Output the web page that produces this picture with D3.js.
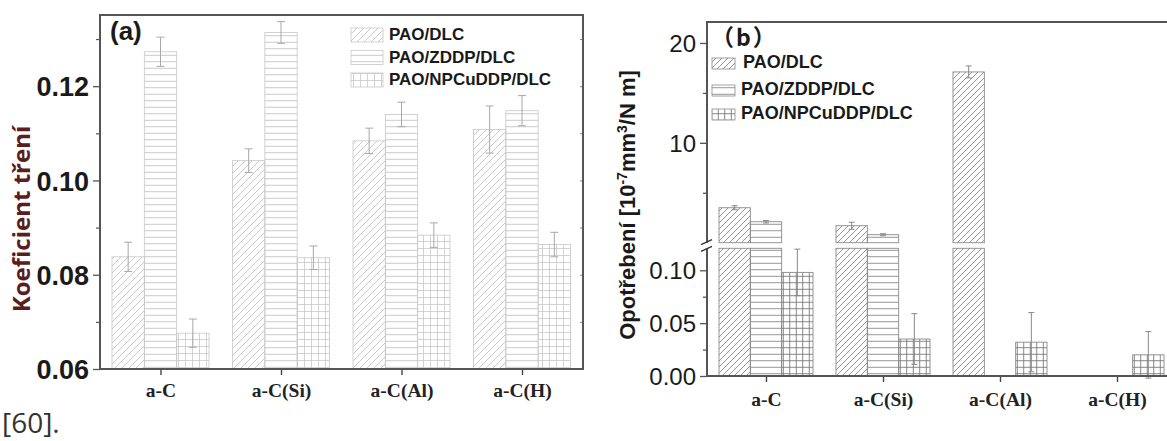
<!DOCTYPE html>
<html>
<head>
<meta charset="utf-8">
<script src="https://cdn.jsdelivr.net/npm/d3@7"></script>
<style>
  body { margin: 0; background: #fff; }
  svg { display: block; }
</style>
</head>
<body>
<svg width="1167" height="441"></svg>
<script>
// data
const categories = ['a-C', 'a-C(Si)', 'a-C(Al)', 'a-C(H)'];
const seriesNames = ['PAO/DLC', 'PAO/ZDDP/DLC', 'PAO/NPCuDDP/DLC'];

// (a) friction coefficient
const fricPAO = [0.0838, 0.1042, 0.1084, 0.1108];
const fricZDDP = [0.1273, 0.1314, 0.1140, 0.1148];
const fricNPCu = [0.0676, 0.0836, 0.0884, 0.0864];
const fricErrPAO = [0.0031, 0.0025, 0.0027, 0.0050];
const fricErrZDDP = [0.0031, 0.0023, 0.0026, 0.0032];
const fricErrNPCu = [0.0030, 0.0025, 0.0026, 0.0026];

// (b) wear rate, null = no bar
const wearPAO = [3.5, 1.7, 17.1, null];
const wearZDDP = [2.1, 0.8, null, null];
const wearNPCu = [0.098, 0.035, 0.032, 0.020];
const wearErrPAO = [0.2, 0.35, 0.6, null];
const wearErrZDDP = [0.12, 0.1, null, null];
const wearErrNPCu = [0.022, 0.024, 0.028, 0.022];

const fricTicks = [0.06, 0.08, 0.10, 0.12];
const fricMinor = [0.07, 0.09, 0.11, 0.13];
const wearTicksHi = [10, 20];
const wearMinorHi = [5, 15];
const wearTicksLo = [0, 0.05, 0.10];
const wearMinorLo = [0.025, 0.075];

const svg = d3.select('svg');
const defs = svg.append('defs');

function hatch(id, kind, gap, color, w) {
  const p = defs.append('pattern').attr('id', id)
    .attr('patternUnits', 'userSpaceOnUse')
    .attr('width', gap).attr('height', gap);
  if (kind == 'diag') {
    p.append('path').attr('d', `M0,${gap} L${gap},0 M${-gap},${gap} L0,0 M${gap},${2*gap} L${2*gap},${gap}`)
      .attr('stroke', color).attr('stroke-width', w);
  } else if (kind == 'horiz') {
    p.append('path').attr('d', `M0,${gap/2} H${gap}`).attr('stroke', color).attr('stroke-width', w);
  } else {
    p.append('path').attr('d', `M0,${gap/2} H${gap} M${gap/2},0 V${gap}`)
      .attr('stroke', color).attr('stroke-width', w);
  }
}
hatch('a0', 'diag', 7, '#c4c4c4', 0.9);
hatch('a1', 'horiz', 6.5, '#c4c4c4', 0.9);
hatch('a2', 'grid', 7, '#c8c8c8', 0.8);
hatch('b0', 'diag', 6, '#8a8a8a', 0.9);
hatch('b1', 'horiz', 6.5, '#8a8a8a', 0.9);
hatch('b2', 'grid', 6.5, '#7a7a7a', 0.9);

// ---------- panel (a) ----------
const ax = {left: 100, right: 583, top: 15, bottom: 369};
const xA = d3.scalePoint().domain(categories).range([160.5, 522]);
const subA = d3.scaleBand().domain(seriesNames).range([-48.5, 48.5]);
const yA = d3.scaleLinear().domain([0.06, 0.1351]).range([ax.bottom, ax.top]);

const fricVals = [fricPAO, fricZDDP, fricNPCu];
const fricErrs = [fricErrPAO, fricErrZDDP, fricErrNPCu];
const gA = svg.append('g');

seriesNames.forEach((s, si) => {
  gA.selectAll(null).data(categories).enter().append('rect')
    .attr('x', c => xA(c) + subA(s))
    .attr('width', subA.bandwidth())
    .attr('y', (c, i) => yA(fricVals[si][i]))
    .attr('height', (c, i) => yA(0.06) - yA(fricVals[si][i]))
    .attr('fill', `url(#a${si})`)
    .attr('stroke', '#c8c8c8').attr('stroke-width', 0.8);
});
seriesNames.forEach((s, si) => {
  gA.selectAll(null).data(categories).enter().append('path')
    .attr('d', (c, i) => {
      const cx = xA(c) + subA(s) + subA.bandwidth() / 2;
      const v = fricVals[si][i], e = fricErrs[si][i];
      const y1 = yA(v + e), y2 = yA(v - e);
      return `M${cx-4},${y1}H${cx+4}M${cx},${y1}V${y2}M${cx-4},${y2}H${cx+4}`;
    })
    .attr('fill', 'none').attr('stroke', '#a8a8a8').attr('stroke-width', 1);
});

const yAxisA = d3.axisLeft(yA).tickValues(fricTicks).tickFormat(d3.format('.2f')).tickSize(7).tickPadding(4);
const gyA = svg.append('g').attr('transform', `translate(${ax.left},0)`).call(yAxisA);
gyA.select('.domain').remove();
gyA.selectAll('text').attr('font-family', 'Liberation Sans, Arial').attr('font-weight', 'bold')
  .attr('font-size', 27).attr('fill', '#1a1a1a').attr('dy', '0.36em');
gyA.selectAll('line').attr('stroke', '#555').attr('stroke-width', 1.3);
svg.append('g').attr('transform', `translate(${ax.left},0)`)
  .call(d3.axisLeft(yA).tickValues(fricMinor).tickSize(4).tickFormat(''))
  .call(g => g.select('.domain').remove())
  .selectAll('line').attr('stroke', '#555').attr('stroke-width', 1.2);
svg.append('g').attr('transform', `translate(${ax.right},0)`)
  .call(d3.axisLeft(yA).tickValues(fricTicks.concat(fricMinor)).tickSize(3).tickFormat(''))
  .call(g => g.select('.domain').remove())
  .selectAll('line').attr('stroke', '#888').attr('stroke-width', 1);

const gxA = svg.append('g').attr('transform', `translate(0,${ax.bottom})`)
  .call(d3.axisBottom(xA).tickSize(6).tickPadding(8));
gxA.select('.domain').remove();
gxA.selectAll('line').attr('stroke', '#444').attr('stroke-width', 1.4);
gxA.selectAll('text').attr('font-family', 'Liberation Serif, Times New Roman').attr('font-weight', 'bold')
  .attr('font-size', 19.5).attr('fill', '#222');

svg.append('rect').attr('x', ax.left).attr('y', ax.top)
  .attr('width', ax.right - ax.left).attr('height', ax.bottom - ax.top)
  .attr('fill', 'none').attr('stroke', '#555').attr('stroke-width', 2);

svg.append('text').attr('x', 110).attr('y', 40).text('(a)')
  .attr('font-family', 'Liberation Sans, Arial').attr('font-weight', 'bold')
  .attr('font-size', 26).attr('fill', '#1a1a1a');

svg.append('text')
  .attr('transform', 'translate(30,219) rotate(-90)')
  .attr('text-anchor', 'middle')
  .attr('font-family', 'Open Sans, Liberation Sans').attr('font-weight', 'bold')
  .attr('font-size', 24).attr('fill', '#5a1e1e')
  .text('Koeficient tření');

const legA = svg.append('g');
seriesNames.forEach((s, i) => {
  const y = 28 + i * 22.5;
  legA.append('rect').attr('x', 351).attr('y', y).attr('width', 32).attr('height', 14)
    .attr('fill', `url(#a${i})`).attr('stroke', '#c8c8c8').attr('stroke-width', 0.8);
  legA.append('text').attr('x', 389).attr('y', y + 12).text(s)
    .attr('font-family', 'Liberation Sans, Arial').attr('font-weight', 'bold')
    .attr('font-size', 17).attr('fill', '#1a1a1a');
});

// ---------- panel (b) ----------
const bx = {left: 707, right: 1180, top: 22, bottom: 376, breakHi: 242.7, breakLo: 248.3};
const xB = d3.scalePoint().domain(categories).range([766, 1117]);
const subB = d3.scaleBand().domain(seriesNames).range([-47, 47]);
const yLo = d3.scaleLinear().domain([0, 0.1208]).range([bx.bottom, bx.breakLo]);
const yHi = d3.scaleLinear().domain([0, 22.1]).range([bx.breakHi, bx.top]);

const wearVals = [wearPAO, wearZDDP, wearNPCu];
const wearErrs = [wearErrPAO, wearErrZDDP, wearErrNPCu];
const gB = svg.append('g');

seriesNames.forEach((s, si) => {
  categories.forEach((c, i) => {
    const v = wearVals[si][i];
    if (v == null) return;
    const x = xB(c) + subB(s), w = subB.bandwidth();
    const loTop = Math.min(v, yLo.domain()[1]);
    gB.append('rect').attr('x', x).attr('width', w)
      .attr('y', yLo(loTop)).attr('height', yLo(0) - yLo(loTop))
      .attr('fill', `url(#b${si})`).attr('stroke', '#8a8a8a').attr('stroke-width', 0.9);
    if (v > yLo.domain()[1]) {
      gB.append('rect').attr('x', x).attr('width', w)
        .attr('y', yHi(v)).attr('height', yHi(0) - yHi(v))
        .attr('fill', `url(#b${si})`).attr('stroke', '#8a8a8a').attr('stroke-width', 0.9);
    }
    const e = wearErrs[si][i];
    const ys = v > yLo.domain()[1] ? yHi : yLo;
    const cx = x + w / 2, y1 = ys(v + e), y2 = ys(v - e);
    gB.append('path')
      .attr('d', `M${cx-3},${y1}H${cx+3}M${cx},${y1}V${y2}M${cx-3},${y2}H${cx+3}`)
      .attr('fill', 'none').attr('stroke', '#888').attr('stroke-width', 1);
  });
});

function styleB(g) {
  g.select('.domain').remove();
  g.selectAll('line').attr('stroke', '#555').attr('stroke-width', 1.3);
  g.selectAll('text').attr('font-family', 'Liberation Sans, Arial')
    .attr('font-size', 24).attr('fill', '#1a1a1a').attr('dy', '0.36em');
}
svg.append('g').attr('transform', `translate(${bx.left},0)`)
  .call(d3.axisLeft(yHi).tickValues(wearTicksHi).tickFormat(d3.format('d')).tickSize(7).tickPadding(4))
  .call(styleB);
svg.append('g').attr('transform', `translate(${bx.left},0)`)
  .call(d3.axisLeft(yLo).tickValues(wearTicksLo).tickFormat(d3.format('.2f')).tickSize(7).tickPadding(4))
  .call(styleB);
svg.append('g').attr('transform', `translate(${bx.left},0)`)
  .call(d3.axisLeft(yHi).tickValues(wearMinorHi).tickSize(4).tickFormat(''))
  .call(styleB);
svg.append('g').attr('transform', `translate(${bx.left},0)`)
  .call(d3.axisLeft(yLo).tickValues(wearMinorLo).tickSize(4).tickFormat(''))
  .call(styleB);

const gxB = svg.append('g').attr('transform', `translate(0,${bx.bottom})`)
  .call(d3.axisBottom(xB).tickSize(6).tickPadding(10));
gxB.select('.domain').remove();
gxB.selectAll('line').attr('stroke', '#444').attr('stroke-width', 1.4);
gxB.selectAll('text').attr('font-family', 'Liberation Serif, Times New Roman').attr('font-weight', 'bold')
  .attr('font-size', 19.5).attr('fill', '#222');

// frame: left axis split at the break, top and bottom run off the right edge
svg.append('path')
  .attr('d', `M${bx.right},${bx.top}H${bx.left}V${bx.breakHi}M${bx.left},${bx.breakLo}V${bx.bottom}H${bx.right}`)
  .attr('fill', 'none').attr('stroke', '#555').attr('stroke-width', 2);
svg.append('path')
  .attr('d', `M${bx.left-6},${bx.breakHi+2}L${bx.left+5},${bx.breakHi-3}M${bx.left-6},${bx.breakLo+3}L${bx.left+5},${bx.breakLo-2}`)
  .attr('stroke', '#333').attr('stroke-width', 1.3);

svg.append('text').attr('x', 711).attr('y', 46).text('（b）')
  .attr('font-family', 'Noto Sans CJK SC').attr('font-weight', 'bold')
  .attr('font-size', 23).attr('letter-spacing', 2).attr('fill', '#1a1a1a');

svg.append('text')
  .attr('transform', 'translate(635,205) rotate(-90)')
  .attr('text-anchor', 'middle')
  .attr('font-family', 'Liberation Sans, Arial').attr('font-weight', 'bold')
  .attr('font-size', 22).attr('fill', '#1a1a1a')
  .call(t => {
    t.append('tspan').text('Opotřebení [10');
    t.append('tspan').attr('font-size', 14).attr('dy', -8).text('-7');
    t.append('tspan').attr('dy', 8).text('mm');
    t.append('tspan').attr('font-size', 14).attr('dy', -8).text('3');
    t.append('tspan').attr('dy', 8).text('/N m]');
  });

const legB = svg.append('g');
const legBy = [58, 85, 109];
const legBtx = [743, 741, 741];
seriesNames.forEach((s, i) => {
  legB.append('rect').attr('x', 712).attr('y', legBy[i]).attr('width', 23).attr('height', 11)
    .attr('fill', `url(#b${i})`).attr('stroke', '#8a8a8a').attr('stroke-width', 0.8);
  legB.append('text').attr('x', legBtx[i]).attr('y', legBy[i] + 10).text(s)
    .attr('font-family', 'Liberation Sans, Arial').attr('font-weight', 'bold')
    .attr('font-size', 18).attr('fill', '#1a1a1a');
});

svg.append('text').attr('x', 2).attr('y', 433).text('[60].')
  .attr('font-family', 'Open Sans').attr('font-size', 28).attr('fill', '#333');
</script>
</body>
</html>
